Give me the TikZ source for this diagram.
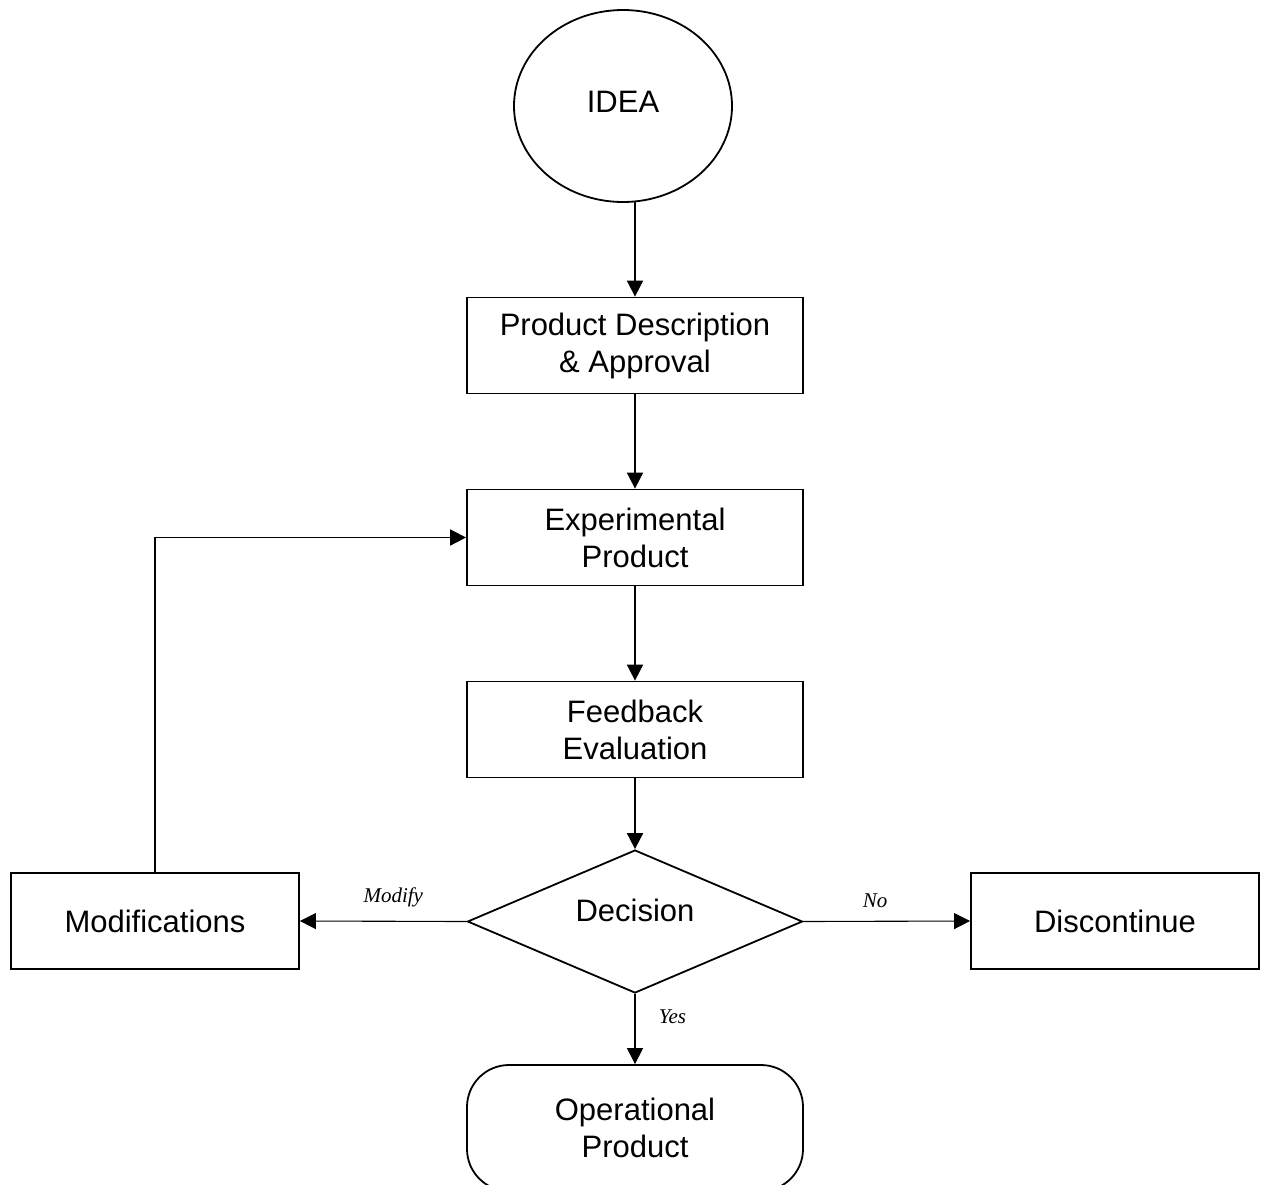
\documentclass[tikz,border=0pt]{standalone}
\usepackage{fontspec}
\usepackage{tikz}
\usetikzlibrary{shapes.geometric}
\usetikzlibrary{arrows.meta}
\setmainfont{Liberation Sans}
\newfontfamily\labelfont{Liberation Serif}
\newcommand{\boxtext}{\fontsize{31}{37}\selectfont}
\tikzset{every node/.style={font=\boxtext, align=center},
  stepbox/.style={draw, line width=1.8pt, minimum width=336pt, minimum height=96pt, inner sep=0pt},
  decision/.style={draw, diamond, line width=1.8pt, minimum width=335pt, minimum height=143pt, inner sep=0pt, aspect=2.34},
  endbox/.style={draw, line width=1.8pt, rounded corners=42pt, minimum width=336pt, minimum height=126pt, inner sep=0pt},
  flow/.style={->, line width=1.8pt},
  thinflow/.style={->, line width=1.1pt},
  branch/.style={font=\labelfont\itshape\fontsize{21}{24}\selectfont}}

\begin{document}
\begin{tikzpicture}[line cap=butt,line join=miter,>={Triangle[length=16pt,width=16pt]},x=1pt,y=-1pt]
                    \useasboundingbox (0,0) rectangle (1261,1184);
                    \clip (0,0) rectangle (1261,1184);
                    \node [draw, ellipse, line width=1.8pt, minimum width=218pt, minimum height=192pt, inner sep=0pt] (idea) at (623,106) {};
                    \node (ideatext) at (623,102) {IDEA};
                    \node [stepbox] (descr) at (635,345.5) {Product Description\\\& Approval};
                    \node [stepbox] (exper) at (635,537.5) {Experimental\\Product};
                    \node [stepbox] (feedb) at (635,729.5) {Feedback\\Evaluation};
                    \node [decision] (decis) at (635,921.5) {};
                    \node (decistext) at (635,910) {Decision};
                    \node [stepbox, minimum width=288pt] (modif) at (155,921) {Modifications};
                    \node [stepbox, minimum width=288pt] (disco) at (1115,921) {Discontinue};
                    \node [endbox] (opera) at (635,1128) {Operational\\Product};
                    \coordinate (ideaout) at (635,202);
                    \coordinate (loopcorner) at (155,537.5);
                    % main line
                    \draw [flow] (ideaout) -- (descr.north);
                    \draw [flow] (descr) -- (exper);
                    \draw [flow] (exper) -- (feedb);
                    \draw [flow] (feedb) -- (decis.north);
                    % branches
                    \draw [thinflow] (decis.west) -- (modif.east) node [branch, pos=0.44, above=10pt] {Modify};
                    \draw [thinflow] (decis.east) -- (disco.west) node [branch, pos=0.43, above=10pt] {No};
                    \draw [thinflow] (decis.south) -- (opera.north) node [branch, pos=0.33, right=20pt] {Yes};
                    \draw [flow] (modif.north) -- (loopcorner) -- (exper.west);
                    \end{tikzpicture}
\end{document}
